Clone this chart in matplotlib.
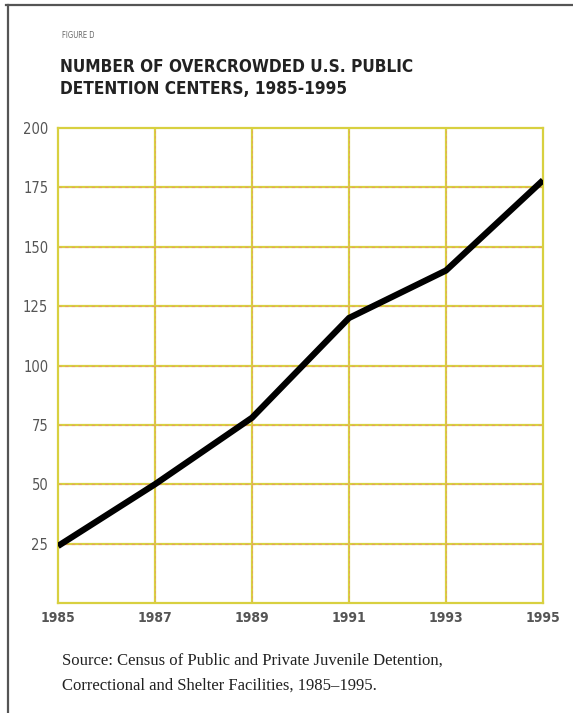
import matplotlib
matplotlib.use("Agg")
import matplotlib.pyplot as plt
from matplotlib.lines import Line2D

years = [1985, 1987, 1989, 1991, 1993, 1995]
centers = [24, 50, 78, 120, 140, 178]
yticks = [25, 50, 75, 100, 125, 150, 175, 200]
xticks = [1985, 1987, 1989, 1991, 1993, 1995]
ytick_labels = ["25", "50", "75", "100", "125", "150", "175", "200"]
xtick_labels = ["1985", "1987", "1989", "1991", "1993", "1995"]

narrow = ["DejaVu Sans"]
serif = ["Liberation Serif", "DejaVu Serif"]

fig = plt.figure(figsize=(5.73, 7.13), dpi=100)
fig.patch.set_facecolor("white")

# page border lines (top and left)
fig.add_artist(Line2D([6/573, 1.0], [1 - 5/713, 1 - 5/713], color="#555555", lw=1.6, transform=fig.transFigure))
fig.add_artist(Line2D([8/573, 8/573], [1 - 5/713, 0.0], color="#555555", lw=1.6, transform=fig.transFigure))

ax = fig.add_axes([58/573, 1 - 603/713, (543 - 58)/573, (603 - 128)/713])
ax.set_xlim(1985, 1995)
ax.set_ylim(0, 200)

grid_yellow = "#d8d040"
grid_orange = "#e8a060"
for y in yticks[:-1]:
    ax.axhline(y, color=grid_yellow, lw=1.6, zorder=1)
    ax.axhline(y, color=grid_orange, lw=0.8, ls=(0, (3, 3)), zorder=1.1)
for x in xticks[1:-1]:
    ax.axvline(x, color=grid_yellow, lw=1.6, zorder=1)
    ax.axvline(x, color=grid_orange, lw=0.6, ls=(0, (3, 3)), zorder=1.1)

for side in ["top", "right", "bottom", "left"]:
    ax.spines[side].set_color(grid_yellow)
    ax.spines[side].set_linewidth(1.6)
    ax.spines[side].set_linestyle((0, (1.5, 1)))
ax.spines["left"].set_linestyle("-")

ax.plot(years, centers, color="black", lw=4.5, solid_capstyle="butt", solid_joinstyle="miter", zorder=3)

ax.set_yticks(yticks)
ax.set_yticklabels(ytick_labels, family=narrow, fontstretch="condensed", fontsize=10.5, color="#555555")
ax.set_xticks(xticks)
ax.set_xticklabels(xtick_labels, family=narrow, fontstretch="condensed", fontsize=10, color="#555555",
                   fontweight="bold")
ax.tick_params(axis="y", length=0, pad=7)
ax.tick_params(axis="x", length=0, pad=6)

fig.text(62/573, 1 - 36/713, "FIGURE D", family=narrow, fontstretch="condensed", fontsize=5.5,
         color="#666666", va="center")
fig.text(60/573, 1 - 67/713, "NUMBER OF OVERCROWDED U.S. PUBLIC", family=narrow, fontstretch="condensed",
         fontsize=12.3, fontweight="bold", color="#222222", va="center")
fig.text(60/573, 1 - 89/713, "DETENTION CENTERS, 1985-1995", family=narrow, fontstretch="condensed",
         fontsize=12.3, fontweight="bold", color="#222222", va="center")

fig.text(62/573, 1 - 661/713, "Source: Census of Public and Private Juvenile Detention,", family=serif,
         fontsize=12, color="#222222", va="center")
fig.text(62/573, 1 - 686/713, "Correctional and Shelter Facilities, 1985\u20131995.", family=serif,
         fontsize=12, color="#222222", va="center")

fig.savefig("out.png", dpi=100, facecolor="white")
